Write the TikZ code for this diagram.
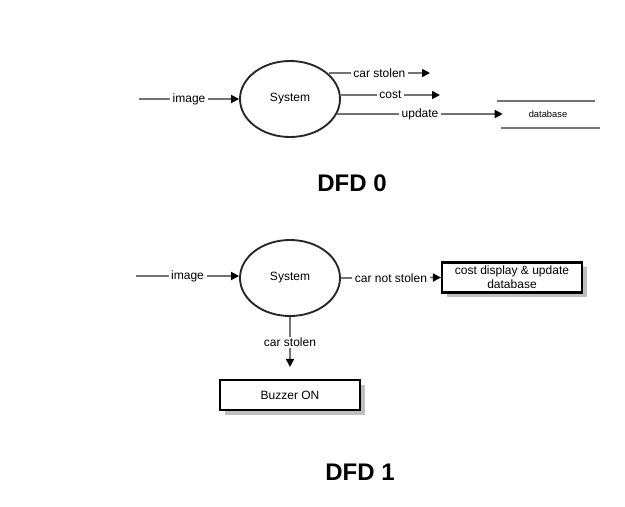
\documentclass[tikz,border=0pt]{standalone}
\usepackage{fontspec}
\setmainfont{Liberation Sans}
\usetikzlibrary{arrows.meta, shapes.geometric, shadows}

\tikzset{
  process/.style={ellipse, draw=black!85, line width=1.4pt, minimum width=75pt, minimum height=57pt, font=\fontsize{9}{10.5}\selectfont},
  flow/.style={draw=black!55, line width=1.3pt, -{Triangle[length=6pt,width=6pt,black]}},
  lbl/.style={fill=white, inner xsep=2pt, inner ysep=1pt, font=\fontsize{9}{10.5}\selectfont},
  entity/.style={rectangle, draw=black, line width=1.6pt, fill=white, minimum width=105pt, minimum height=22.5pt, align=center, inner sep=1pt, font=\fontsize{9}{10.3}\selectfont, drop shadow={shadow xshift=3.5pt, shadow yshift=-3.5pt, fill=black!25, opacity=1}},
  store/.style={draw=black!55, line width=1.3pt},
  dfdtitle/.style={font=\fontsize{18}{20}\selectfont\bfseries}
}

\begin{document}
\begin{tikzpicture}[x=0.75pt, y=-0.75pt]
\useasboundingbox (0,0) rectangle (625,507);

% DFD 0
\node[process] (sys0) at (290,99) {System};
\coordinate (in0) at (139,99);
\coordinate (cs0) at (430,73);
\coordinate (co0) at (440,95);
\node[inner sep=0pt, minimum width=67.5pt, minimum height=18pt, font=\fontsize{7}{8}\selectfont] (db) at (548,114) {database};
\draw[store] (497,101) -- (595,101);
\draw[store] (501,128) -- (600,128);
\draw[flow] (in0) -- node[lbl]{image} (sys0.west);
\draw[flow] (sys0.33 |- cs0) -- node[lbl]{car stolen} (cs0);
\draw[flow] (sys0.east |- co0) -- node[lbl]{cost} (co0);
\draw[flow] (sys0.-17 |- db.west) -- node[lbl]{update} (db.west);
\node[dfdtitle] (t0) at (352,183) {DFD 0};

% DFD 1
\node[process] (sys1) at (290,278) {System};
\coordinate (in1) at (136,276);
\node[entity] (disp) at (512,277.5) {cost display \& update\\database};
\node[entity] (buz) at (290,395) {Buzzer ON};
\draw[flow] (in1) -- node[lbl]{image} (sys1.west |- in1);
\draw[flow] (sys1.east) -- node[lbl]{car not stolen} (disp.west);
\draw[flow, shorten >=9pt] (sys1.south) -- node[lbl, pos=0.41]{car stolen} (buz.north);
\node[dfdtitle] (t1) at (360,472) {DFD 1};
\end{tikzpicture}
\end{document}
